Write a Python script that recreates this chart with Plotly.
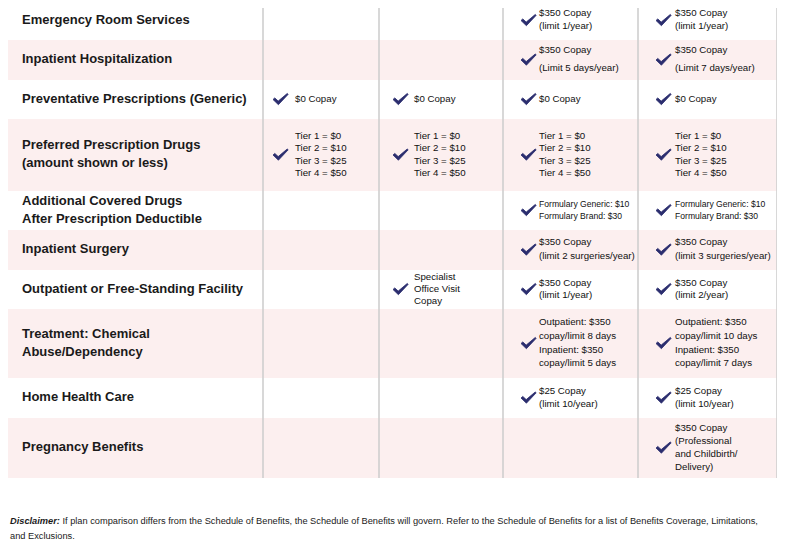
import plotly.graph_objects as go

# ---------------- data ----------------
benefits = [
    ["Emergency Room Services"],
    ["Inpatient Hospitalization"],
    ["Preventative Prescriptions (Generic)"],
    ["Preferred Prescription Drugs", "(amount shown or less)"],
    ["Additional Covered Drugs", "After Prescription Deductible"],
    ["Inpatient Surgery"],
    ["Outpatient or Free-Standing Facility"],
    ["Treatment: Chemical", "Abuse/Dependency"],
    ["Home Health Care"],
    ["Pregnancy Benefits"],
]

tiers = ["Tier 1 = $0", "Tier 2 = $10", "Tier 3 = $25", "Tier 4 = $50"]

plan1 = [None, None, ["$0 Copay"], tiers, None, None, None, None, None, None]
plan2 = [None, None, ["$0 Copay"], tiers, None, None,
         ["Specialist", "Office Visit", "Copay"], None, None, None]
plan3 = [
    ["$350 Copay", "(limit 1/year)"],
    ["$350 Copay", "(Limit 5 days/year)"],
    ["$0 Copay"],
    tiers,
    ["Formulary Generic: $10", "Formulary Brand: $30"],
    ["$350 Copay", "(limit 2 surgeries/year)"],
    ["$350 Copay", "(limit 1/year)"],
    ["Outpatient: $350", "copay/limit 8 days", "Inpatient: $350", "copay/limit 5 days"],
    ["$25 Copay", "(limit 10/year)"],
    None,
]
plan4 = [
    ["$350 Copay", "(limit 1/year)"],
    ["$350 Copay", "(Limit 7 days/year)"],
    ["$0 Copay"],
    tiers,
    ["Formulary Generic: $10", "Formulary Brand: $30"],
    ["$350 Copay", "(limit 3 surgeries/year)"],
    ["$350 Copay", "(limit 2/year)"],
    ["Outpatient: $350", "copay/limit 10 days", "Inpatient: $350", "copay/limit 7 days"],
    ["$25 Copay", "(limit 10/year)"],
    ["$350 Copay", "(Professional", "and Childbirth/", "Delivery)"],
]
plans = [plan1, plan2, plan3, plan4]

disclaimer_bold = "Disclaimer:"
disclaimer_l1 = (" If plan comparison differs from the Schedule of Benefits, the Schedule of Benefits "
                 "will govern. Refer to the Schedule of Benefits for a list of Benefits Coverage, Limitations,")
disclaimer_l2 = "and Exclusions."

# ---------------- layout constants ----------------
W, H = 785, 553
PAGE_MARGIN = 8          # browser body margin around the plot div
row_edges = [1, 40, 80, 119, 191, 230, 270, 309, 378, 418, 478]
row_gap = [13, 18, 12.5, 12.3, 12, 14, 12, 13.7, 13, 13]
col_lines = [263, 379, 503, 638, 777]
table_left = 7
label_x = 22
check_x = [273, 393, 521, 656]
text_x = [295, 414, 539, 675]
PINK = "#fcefef"
NAVY = "#2b2d6e"
GRID = "#cfcfcf"
FONT = "Liberation Sans, Arial, Helvetica, sans-serif"
SMALL_ROWS = {4}

fig = go.Figure()

shapes = []
shapes.append(dict(type="rect", xref="x", yref="y", x0=table_left, x1=W - 8, y0=0, y1=row_edges[0],
                   fillcolor=PINK, line_width=0, layer="below"))
for i in range(len(benefits)):
    if i % 2 == 1:
        shapes.append(dict(type="rect", xref="x", yref="y", x0=table_left, x1=W - 8,
                           y0=row_edges[i], y1=row_edges[i + 1],
                           fillcolor=PINK, line_width=0, layer="below"))
for cx in col_lines:
    shapes.append(dict(type="line", xref="x", yref="y", x0=cx, x1=cx, y0=0, y1=row_edges[-1],
                       line=dict(color=GRID, width=1.6)))

# labels
lx, ly, lt = [], [], []
for i, lines in enumerate(benefits):
    c = (row_edges[i] + row_edges[i + 1]) / 2
    n = len(lines)
    for k, t in enumerate(lines):
        lx.append(label_x)
        ly.append(c + (k - (n - 1) / 2) * 18)
        lt.append(t)
fig.add_trace(go.Scatter(x=lx, y=ly, text=lt, mode="text", textposition="middle right",
                         textfont=dict(family=FONT, size=13, color="#1a1a1a", weight="bold"),
                         hoverinfo="skip", showlegend=False))

# cells
cx_, cy_, ct_ = [], [], []
sx_, sy_, st_ = [], [], []
chk_x, chk_y = [], []
for j, plan in enumerate(plans):
    for i, lines in enumerate(plan):
        if not lines:
            continue
        c = (row_edges[i] + row_edges[i + 1]) / 2
        n = len(lines)
        for k, t in enumerate(lines):
            y = c + (k - (n - 1) / 2) * row_gap[i]
            if i in SMALL_ROWS:
                sx_.append(text_x[j]); sy_.append(y); st_.append(t)
            else:
                cx_.append(text_x[j]); cy_.append(y); ct_.append(t)
        x0 = check_x[j]
        y0 = c + 1
        pts = [(0, -1), (1.8, -2.6), (5.2, 0.6), (14.2, -7.0), (15.2, -6.2), (5.4, 4.2), (0, -1)]
        for px, py in pts:
            chk_x.append(x0 + px); chk_y.append(y0 + py)
        chk_x.append(None); chk_y.append(None)

fig.add_trace(go.Scatter(x=cx_, y=cy_, text=ct_, mode="text", textposition="middle right",
                         textfont=dict(family=FONT, size=9.7, color="#111111"),
                         hoverinfo="skip", showlegend=False))
fig.add_trace(go.Scatter(x=sx_, y=sy_, text=st_, mode="text", textposition="middle right",
                         textfont=dict(family=FONT, size=8.6, color="#111111"),
                         hoverinfo="skip", showlegend=False))
fig.add_trace(go.Scatter(x=chk_x, y=chk_y, mode="lines", fill="toself", fillcolor=NAVY,
                         line=dict(color=NAVY, width=0.8), hoverinfo="skip", showlegend=False))

annotations = [
    dict(x=8, y=521, xref="x", yref="y", xanchor="left", yanchor="middle", showarrow=False,
         text="<b><i>" + disclaimer_bold + "</i></b>" + disclaimer_l1,
         font=dict(family=FONT, size=9.25, color="#1a1a1a")),
    dict(x=8, y=536, xref="x", yref="y", xanchor="left", yanchor="middle", showarrow=False,
         text=disclaimer_l2, font=dict(family=FONT, size=9.25, color="#1a1a1a")),
]

fig.update_layout(
    width=W - PAGE_MARGIN, height=H - PAGE_MARGIN, margin=dict(l=0, r=0, t=0, b=0),
    paper_bgcolor="white", plot_bgcolor="white",
    xaxis=dict(range=[PAGE_MARGIN, W], visible=False, fixedrange=True),
    yaxis=dict(range=[H, PAGE_MARGIN], visible=False, fixedrange=True),
    shapes=shapes, annotations=annotations,
)
fig.write_html("out.html")
